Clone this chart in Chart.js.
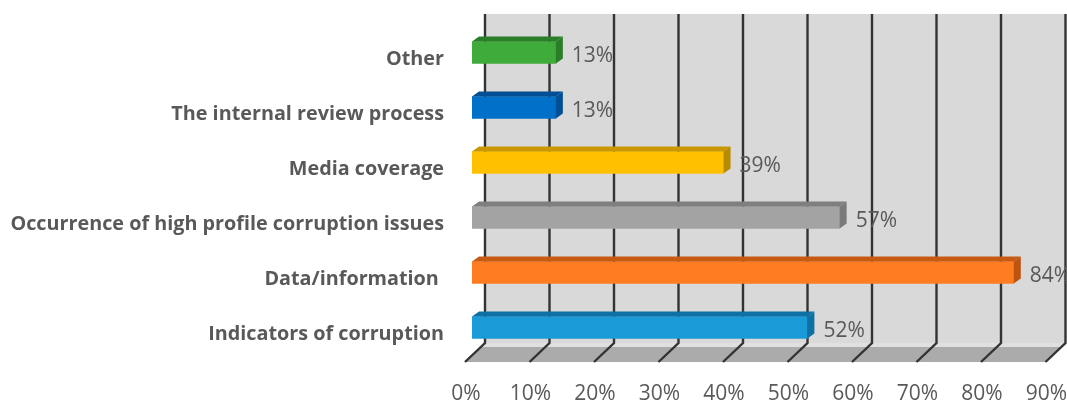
<!DOCTYPE html>
<html><head><meta charset="utf-8">
<script src="https://cdn.jsdelivr.net/npm/chart.js@4"></script>
<style>html,body{margin:0;padding:0;background:#fff}#w{width:1067px;height:403px}</style>
</head><body><div id="w"><canvas id="c" width="1067" height="403"></canvas></div>
<script>
const categories = ["Other", "The internal review process", "Media coverage", "Occurrence of high profile corruption issues", "Data/information ", "Indicators of corruption"];
const values = [13, 13, 39, 57, 84, 52];
const barColors = ["#3FAB3B", "#0070C8", "#FFC000", "#A3A3A3", "#FF7C20", "#1A9BD8"];
const topColors = ["#2B7E28", "#004F94", "#C99700", "#7F7F7F", "#C75A12", "#0F71A3"];
const sideColors = ["#2B7E28", "#004F94", "#B88A00", "#7A7A7A", "#BD5510", "#0F71A3"];
const tickValues = [0, 10, 20, 30, 40, 50, 60, 70, 80, 90];
const DX = 13, DY = 11, FX = 7, FY = 7, BX = 7, BY = 5;

const box3d = {
  id: 'box3d',
  beforeDatasetsDraw(chart) {
    const { ctx, chartArea: a, scales: { x } } = chart;
    const L = a.left + DX, R = a.right + DX, T = a.top - DY, B = a.bottom - 8;
    const fB = a.bottom + FY;
    ctx.save();
    ctx.fillStyle = '#D9D9D9';
    ctx.fillRect(L, T, R - L, B - 4 - T);
    ctx.fillStyle = '#E0E0E0';
    ctx.beginPath();
    ctx.moveTo(L, B - 4); ctx.lineTo(R, B - 4); ctx.lineTo(R - 4, B); ctx.lineTo(L - 4, B);
    ctx.closePath(); ctx.fill();
    ctx.fillStyle = '#ABABAB';
    ctx.beginPath();
    ctx.moveTo(L - 4, B); ctx.lineTo(R - 4, B);
    ctx.lineTo(a.right - FX, fB); ctx.lineTo(a.left - FX, fB);
    ctx.closePath(); ctx.fill();
    ctx.strokeStyle = '#333';
    ctx.lineWidth = 2.4;
    tickValues.forEach(v => {
      const p = x.getPixelForValue(v);
      ctx.beginPath();
      ctx.moveTo(p + DX, T); ctx.lineTo(p + DX, B - 4);
      ctx.lineTo(p - FX, fB);
      ctx.stroke();
    });
    ctx.restore();
  },
  afterDatasetsDraw(chart) {
    const { ctx } = chart;
    const bars = chart.getDatasetMeta(0).data;
    ctx.save();
    bars.forEach((b, i) => {
      const top = b.y - b.height / 2, bot = b.y + b.height / 2, l = b.base, r = b.x;
      ctx.fillStyle = topColors[i];
      ctx.beginPath();
      ctx.moveTo(l, top); ctx.lineTo(l + BX, top - BY); ctx.lineTo(r + BX, top - BY); ctx.lineTo(r, top);
      ctx.closePath(); ctx.fill();
      ctx.fillStyle = sideColors[i];
      ctx.beginPath();
      ctx.moveTo(r, top); ctx.lineTo(r + BX, top - BY); ctx.lineTo(r + BX, bot - BY); ctx.lineTo(r, bot);
      ctx.closePath(); ctx.fill();
      ctx.fillStyle = '#595959';
      ctx.font = '21px "Open Sans"';
      ctx.textAlign = 'left';
      ctx.textBaseline = 'middle';
      ctx.fillText(values[i] + '%', r + 16, b.y + 3.5);
    });
    ctx.restore();
  }
};
const noPad = s => { s.paddingLeft = s.paddingRight = s.paddingTop = s.paddingBottom = 0; };

new Chart(document.getElementById('c'), {
  type: 'bar',
  data: { labels: categories, datasets: [{ data: values, backgroundColor: barColors, barThickness: 22 }] },
  options: {
    indexAxis: 'y', responsive: false, animation: false,
    layout: { padding: { top: 25, right: 14.5, left: 0, bottom: 0 } },
    plugins: { legend: { display: false }, tooltip: { enabled: false } },
    scales: {
      x: {
        type: 'linear', min: 0, max: 90,
        grid: { display: false }, border: { display: false },
        afterBuildTicks(s) { s.ticks = tickValues.map(v => ({ value: v })); },
        afterFit(s) { s.height = 48; noPad(s); },
        ticks: { callback: v => v + '%', color: '#595959', font: { family: '"Open Sans"', size: 21 }, padding: 18, labelOffset: -6, maxRotation: 0, autoSkip: false }
      },
      y: {
        grid: { display: false, drawTicks: false }, border: { display: false },
        afterFit(s) { s.width = 472; noPad(s); },
        ticks: { color: '#595959', font: { family: '"Open Sans"', size: 19.8, weight: 'bold' }, padding: 28, labelOffset: 7, autoSkip: false, crossAlign: 'near' }
      }
    }
  },
  plugins: [box3d]
});
</script></body></html>
